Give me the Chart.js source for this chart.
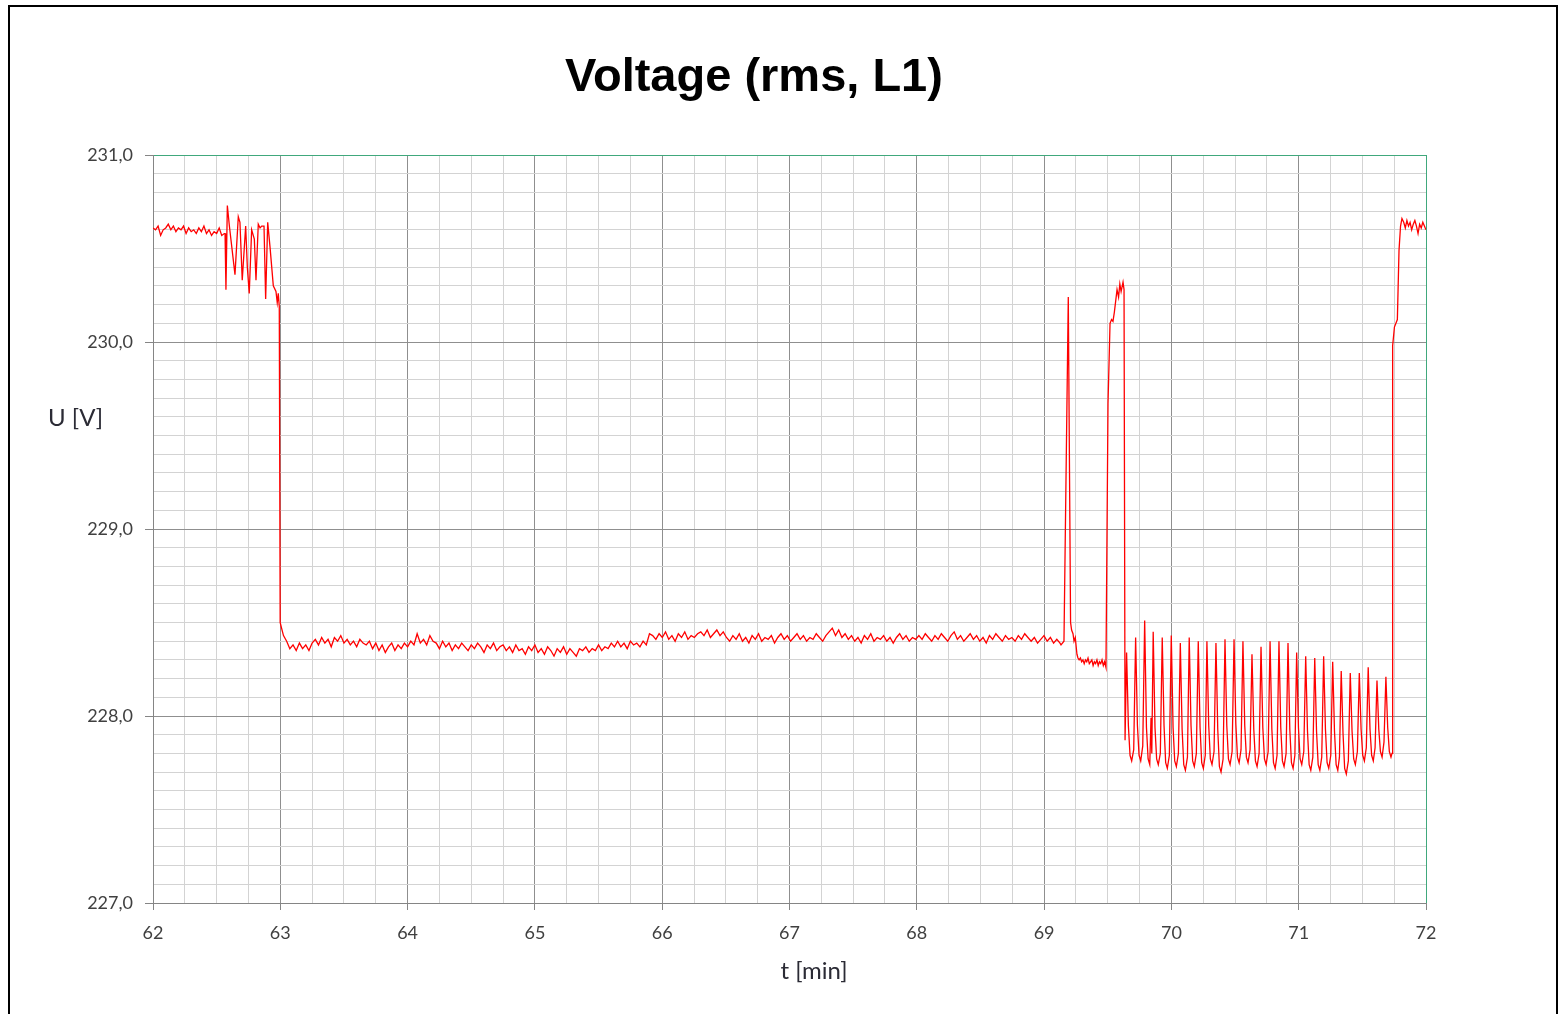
<!DOCTYPE html>
<html>
<head>
<meta charset="utf-8">
<script src="https://cdn.jsdelivr.net/npm/chart.js@4.4.1/dist/chart.umd.min.js"></script>
<style>
  body { margin: 0; background: #fff; }
  #caja { position: relative; width: 1563px; height: 1014px; overflow: hidden; }
  #marco { position: absolute; left: 8px; top: 5px; width: 1550px; height: 1040px; border: 2px solid #000; box-sizing: border-box; pointer-events: none; }
</style>
</head>
<body>
<div id="caja">
  <canvas id="myChart"></canvas>
  <div id="marco"></div>
</div>
<script>
const titulo = "Voltage (rms, L1)"
const tituloY = "U [V]"
const tituloX = "t [min]"
const ticksX = [62, 63, 64, 65, 66, 67, 68, 69, 70, 71, 72]
const ticksY = [227, 228, 229, 230, 231]

// 62.00 - 62.56 min
const valoresInicio = [230.61,230.60,230.62,230.57,230.60,230.61,230.63,230.60,230.62,230.59,230.61,230.60,230.62,230.58,230.61,
  230.59,230.60,230.58,230.61,230.59,230.62,230.58,230.60,230.57,230.59,230.58,230.61,230.57,230.58]

// rafaga antes de la caida [t, U]
const rafaga = [[62.566,230.58],[62.573,230.28],[62.584,230.73],[62.600,230.62],[62.644,230.36],[62.670,230.67],[62.683,230.64],
  [62.701,230.33],[62.728,230.62],[62.741,230.40],[62.756,230.26],[62.775,230.60],[62.796,230.55],[62.809,230.33],[62.827,230.63],
  [62.841,230.61],[62.854,230.62],[62.872,230.62],[62.885,230.23],[62.901,230.64],[62.919,230.51],[62.945,230.30],[62.966,230.27],
  [62.976,230.21],[62.984,230.26],[62.992,230.19],[62.999,228.50],[63.006,228.48]]

// 63.025 - 65.875 min
const valoresMeseta1 = [228.43,228.40,228.36,228.38,228.35,228.39,228.36,228.38,228.35,228.39,
  228.41,228.38,228.42,228.39,228.41,228.37,228.42,228.40,228.43,228.39,228.41,228.38,228.40,228.37,228.41,228.39,228.38,228.40,
  228.36,228.39,228.35,228.38,228.34,228.37,228.39,228.35,228.38,228.36,228.39,228.37,228.40,228.38,
  228.44,228.39,228.41,228.38,228.43,228.40,
  228.39,228.36,228.40,228.37,228.39,228.35,228.38,228.36,228.39,228.37,228.35,228.38,228.36,228.39,228.37,228.34,228.38,228.36,228.39,228.35,228.37,228.38,
  228.35,228.37,228.34,228.38,228.35,228.36,228.33,228.37,228.35,228.38,228.34,228.36,228.33,228.37,228.35,228.32,228.36,228.34,228.37,228.33,
  228.36,228.34,228.32,228.36,228.35,228.37,228.34,228.36,228.35,228.38,228.35,228.37,
  228.36,228.39,228.37,228.40,228.37,228.39,228.36,228.40,228.38,228.39,228.37,228.40,228.38]

// 65.900 - 69.125 min
const valoresMeseta2 = [228.44,228.43,228.41,228.44,228.42,228.45,228.41,228.43,228.40,228.44,228.42,228.45,228.41,228.43,228.42,228.44,
  228.45,228.43,228.46,228.42,228.44,228.46,228.43,228.45,
  228.42,228.40,228.43,228.41,228.44,228.40,228.42,228.39,228.43,228.41,228.44,228.40,228.42,228.41,228.43,228.39,
  228.42,228.44,228.41,228.43,228.40,228.42,228.44,228.41,228.43,228.40,228.42,228.41,228.44,228.42,228.40,228.43,
  228.45,228.47,228.43,228.46,228.42,228.44,
  228.41,228.43,228.40,228.42,228.39,228.43,228.41,228.44,228.40,228.42,228.41,228.43,228.40,228.42,228.39,228.42,228.44,228.41,228.43,228.40,228.42,228.41,
  228.43,228.41,228.44,228.42,228.40,228.43,228.41,228.44,228.42,228.40,228.43,228.45,228.41,228.43,228.40,228.42,228.44,228.41,228.43,228.40,228.42,228.39,
  228.43,228.41,228.44,228.42,228.40,228.43,228.41,228.42,228.40,228.43,228.41,228.44,228.42,228.40,228.42,228.39,228.41,228.43,228.40,228.42,228.39,228.41,228.39]

// picos 69.1 - 69.64 min [t, U]
const picos = [[69.133,228.38],[69.156,228.40],[69.190,230.24],[69.208,228.50],[69.216,228.46],[69.227,228.44],[69.235,228.40],
  [69.245,228.42],[69.258,228.33],[69.266,228.31],[69.275,228.30],[69.285,228.31],[69.295,228.29],[69.305,228.30],[69.315,228.28],
  [69.325,228.30],[69.335,228.29],[69.345,228.31],[69.355,228.28],[69.365,228.29],[69.375,228.30],[69.385,228.27],[69.395,228.29],
  [69.405,228.28],[69.415,228.30],[69.425,228.27],[69.435,228.29],[69.445,228.28],[69.455,228.30],[69.465,228.27],[69.475,228.29],
  [69.486,228.26],[69.502,229.67],[69.518,230.10],[69.530,230.12],[69.541,230.11],[69.552,230.16],[69.573,230.28],[69.585,230.24],
  [69.595,230.31],[69.605,230.27],[69.620,230.32],[69.628,230.28],[69.636,227.87]]

// oscilacion 69.64 - 71.74 min [t, U]
const oscilacion = [
  [69.648,228.34],[69.662,227.95],[69.675,227.79],[69.688,227.76],[69.704,227.82],
  [69.719,228.42],[69.733,227.95],[69.746,227.79],[69.759,227.76],[69.775,227.84],
  [69.790,228.51],[69.804,227.94],[69.817,227.77],[69.830,227.74],[69.840,227.99],[69.846,227.80],
  [69.857,228.45],[69.871,227.94],[69.884,227.77],[69.897,227.74],[69.913,227.80],
  [69.928,228.42],[69.942,227.95],[69.955,227.75],[69.968,227.72],[69.984,227.79],
  [69.999,228.43],[70.013,227.94],[70.026,227.76],[70.039,227.73],[70.055,227.80],
  [70.070,228.39],[70.084,227.93],[70.097,227.74],[70.110,227.71],[70.126,227.78],
  [70.140,228.42],[70.154,227.95],[70.167,227.76],[70.180,227.73],[70.196,227.80],
  [70.211,228.40],[70.225,227.94],[70.238,227.75],[70.251,227.72],[70.266,227.79],
  [70.279,228.40],[70.293,227.95],[70.306,227.77],[70.319,227.74],[70.335,227.81],
  [70.350,228.39],[70.364,227.93],[70.377,227.73],[70.390,227.70],[70.406,227.77],
  [70.421,228.41],[70.435,227.95],[70.448,227.77],[70.461,227.74],[70.477,227.81],
  [70.492,228.41],[70.506,227.96],[70.519,227.78],[70.532,227.75],[70.547,227.82],
  [70.562,228.40],[70.576,227.95],[70.589,227.78],[70.602,227.75],[70.618,227.82],
  [70.633,228.33],[70.647,227.93],[70.660,227.76],[70.673,227.73],[70.689,227.80],
  [70.704,228.37],[70.718,227.94],[70.731,227.77],[70.744,227.74],[70.760,227.81],
  [70.775,228.40],[70.789,227.93],[70.802,227.75],[70.815,227.72],[70.830,227.79],
  [70.845,228.40],[70.859,227.94],[70.872,227.76],[70.885,227.73],[70.901,227.80],
  [70.916,228.39],[70.930,227.93],[70.943,227.75],[70.956,227.72],[70.970,227.79],
  [70.984,228.34],[70.998,227.94],[71.011,227.77],[71.024,227.74],[71.040,227.81],
  [71.055,228.32],[71.069,227.92],[71.082,227.74],[71.095,227.71],[71.111,227.78],
  [71.126,228.31],[71.140,227.92],[71.153,227.74],[71.166,227.71],[71.181,227.78],
  [71.196,228.32],[71.210,227.93],[71.223,227.75],[71.236,227.72],[71.252,227.79],
  [71.267,228.29],[71.281,227.92],[71.294,227.74],[71.307,227.71],[71.320,227.78],
  [71.334,228.24],[71.348,227.91],[71.361,227.72],[71.374,227.69],[71.390,227.76],
  [71.405,228.23],[71.419,227.92],[71.432,227.77],[71.445,227.74],[71.461,227.81],
  [71.476,228.23],[71.490,227.93],[71.503,227.79],[71.516,227.76],[71.531,227.83],
  [71.546,228.26],[71.560,227.93],[71.573,227.79],[71.586,227.76],[71.600,227.83],
  [71.615,228.19],[71.629,227.93],[71.642,227.81],[71.655,227.78],[71.670,227.86],
  [71.685,228.21],[71.699,227.94],[71.712,227.81],[71.725,227.78],[71.733,227.80]]

// subida final [t, U]
const subida = [[71.738,229.98],[71.752,230.08],[71.775,230.12],[71.788,230.49],[71.800,230.62],[71.811,230.66]]

// 71.825 - 72.00 min
const valoresFinal = [230.64,230.61,230.65,230.62,230.64,230.60,230.63,230.65,230.62,230.58,230.63,230.61,230.64,230.62,230.60]

const tramo = (t0, t1, valores) => {
    const paso = (t1 - t0) / (valores.length - 1)
    return valores.map((v, i) => ({ x: t0 + i * paso, y: v }))
}
const pares = (lista) => lista.map((p) => ({ x: p[0], y: p[1] }))

const datos = [
    ...tramo(62.0, 62.56, valoresInicio),
    ...pares(rafaga),
    ...tramo(63.025, 65.875, valoresMeseta1),
    ...tramo(65.9, 69.125, valoresMeseta2),
    ...pares(picos),
    ...pares(oscilacion),
    ...pares(subida),
    ...tramo(71.825, 72.0, valoresFinal)
]

const esEntero = (v) => Math.abs(v - Math.round(v)) < 1e-6
const verde = "rgb(64,168,124)"

const textos = {
    id: "textos",
    afterDraw(chart) {
        const c = chart.ctx
        c.save()
        c.fillStyle = "#000"
        c.font = 'bold 47px "Liberation Sans", Arial, sans-serif'
        c.textAlign = "center"
        c.textBaseline = "alphabetic"
        c.fillText(titulo, 754, 91)
        c.fillStyle = "#2b2b35"
        c.font = '24px Lato, "Open Sans", sans-serif'
        c.textAlign = "left"
        c.textBaseline = "middle"
        c.fillText(tituloY, 48, 418)
        c.textAlign = "center"
        c.fillText(tituloX, 814, 971)
        c.restore()
    }
}

const ctx = document.getElementById("myChart")
new Chart(ctx, {
    type: "line",
    data: {
        datasets: [{
            label: "U L1",
            data: datos,
            borderColor: "rgb(255,0,0)",
            borderWidth: 1.3,
            pointRadius: 0,
            tension: 0,
            fill: false
        }]
    },
    options: {
        responsive: true,
        maintainAspectRatio: false,
        animation: false,
        parsing: false,
        normalized: true,
        layout: { padding: { left: 63, right: 137, top: 155, bottom: 51 } },
        plugins: { legend: { display: false }, title: { display: false }, tooltip: { enabled: false } },
        scales: {
            x: {
                type: "linear",
                min: 62,
                max: 72,
                afterFit: (s) => { s.height = 60 },
                border: { color: "#858585", width: 1 },
                grid: {
                    color: (c) => c.tick.value === 72 ? verde : (esEntero(c.tick.value) ? "#8f8f8f" : "#d3d3d3"),
                    tickColor: (c) => esEntero(c.tick.value) ? "#858585" : "rgba(0,0,0,0)",
                    tickLength: 7,
                    lineWidth: 1
                },
                ticks: {
                    stepSize: 0.25,
                    autoSkip: false,
                    maxRotation: 0,
                    padding: 12,
                    color: "#404040",
                    font: { family: "Lato", size: 18 },
                    callback: (v) => ticksX.some((t) => Math.abs(t - v) < 1e-6) ? String(Math.round(v)) : ""
                }
            },
            y: {
                min: 227,
                max: 231,
                afterFit: (s) => { s.width = 90 },
                border: { color: "#858585", width: 1 },
                grid: {
                    color: (c) => c.tick.value === 231 ? verde : (esEntero(c.tick.value) ? "#8f8f8f" : "#d3d3d3"),
                    tickColor: (c) => esEntero(c.tick.value) ? "#858585" : "rgba(0,0,0,0)",
                    tickLength: 8,
                    lineWidth: 1
                },
                ticks: {
                    stepSize: 0.1,
                    autoSkip: false,
                    padding: 12,
                    color: "#404040",
                    font: { family: "Lato", size: 18 },
                    callback: (v) => ticksY.some((t) => Math.abs(t - v) < 1e-6) ? v.toFixed(1).replace(".", ",") : ""
                }
            }
        }
    },
    plugins: [textos]
})
</script>
</body>
</html>
